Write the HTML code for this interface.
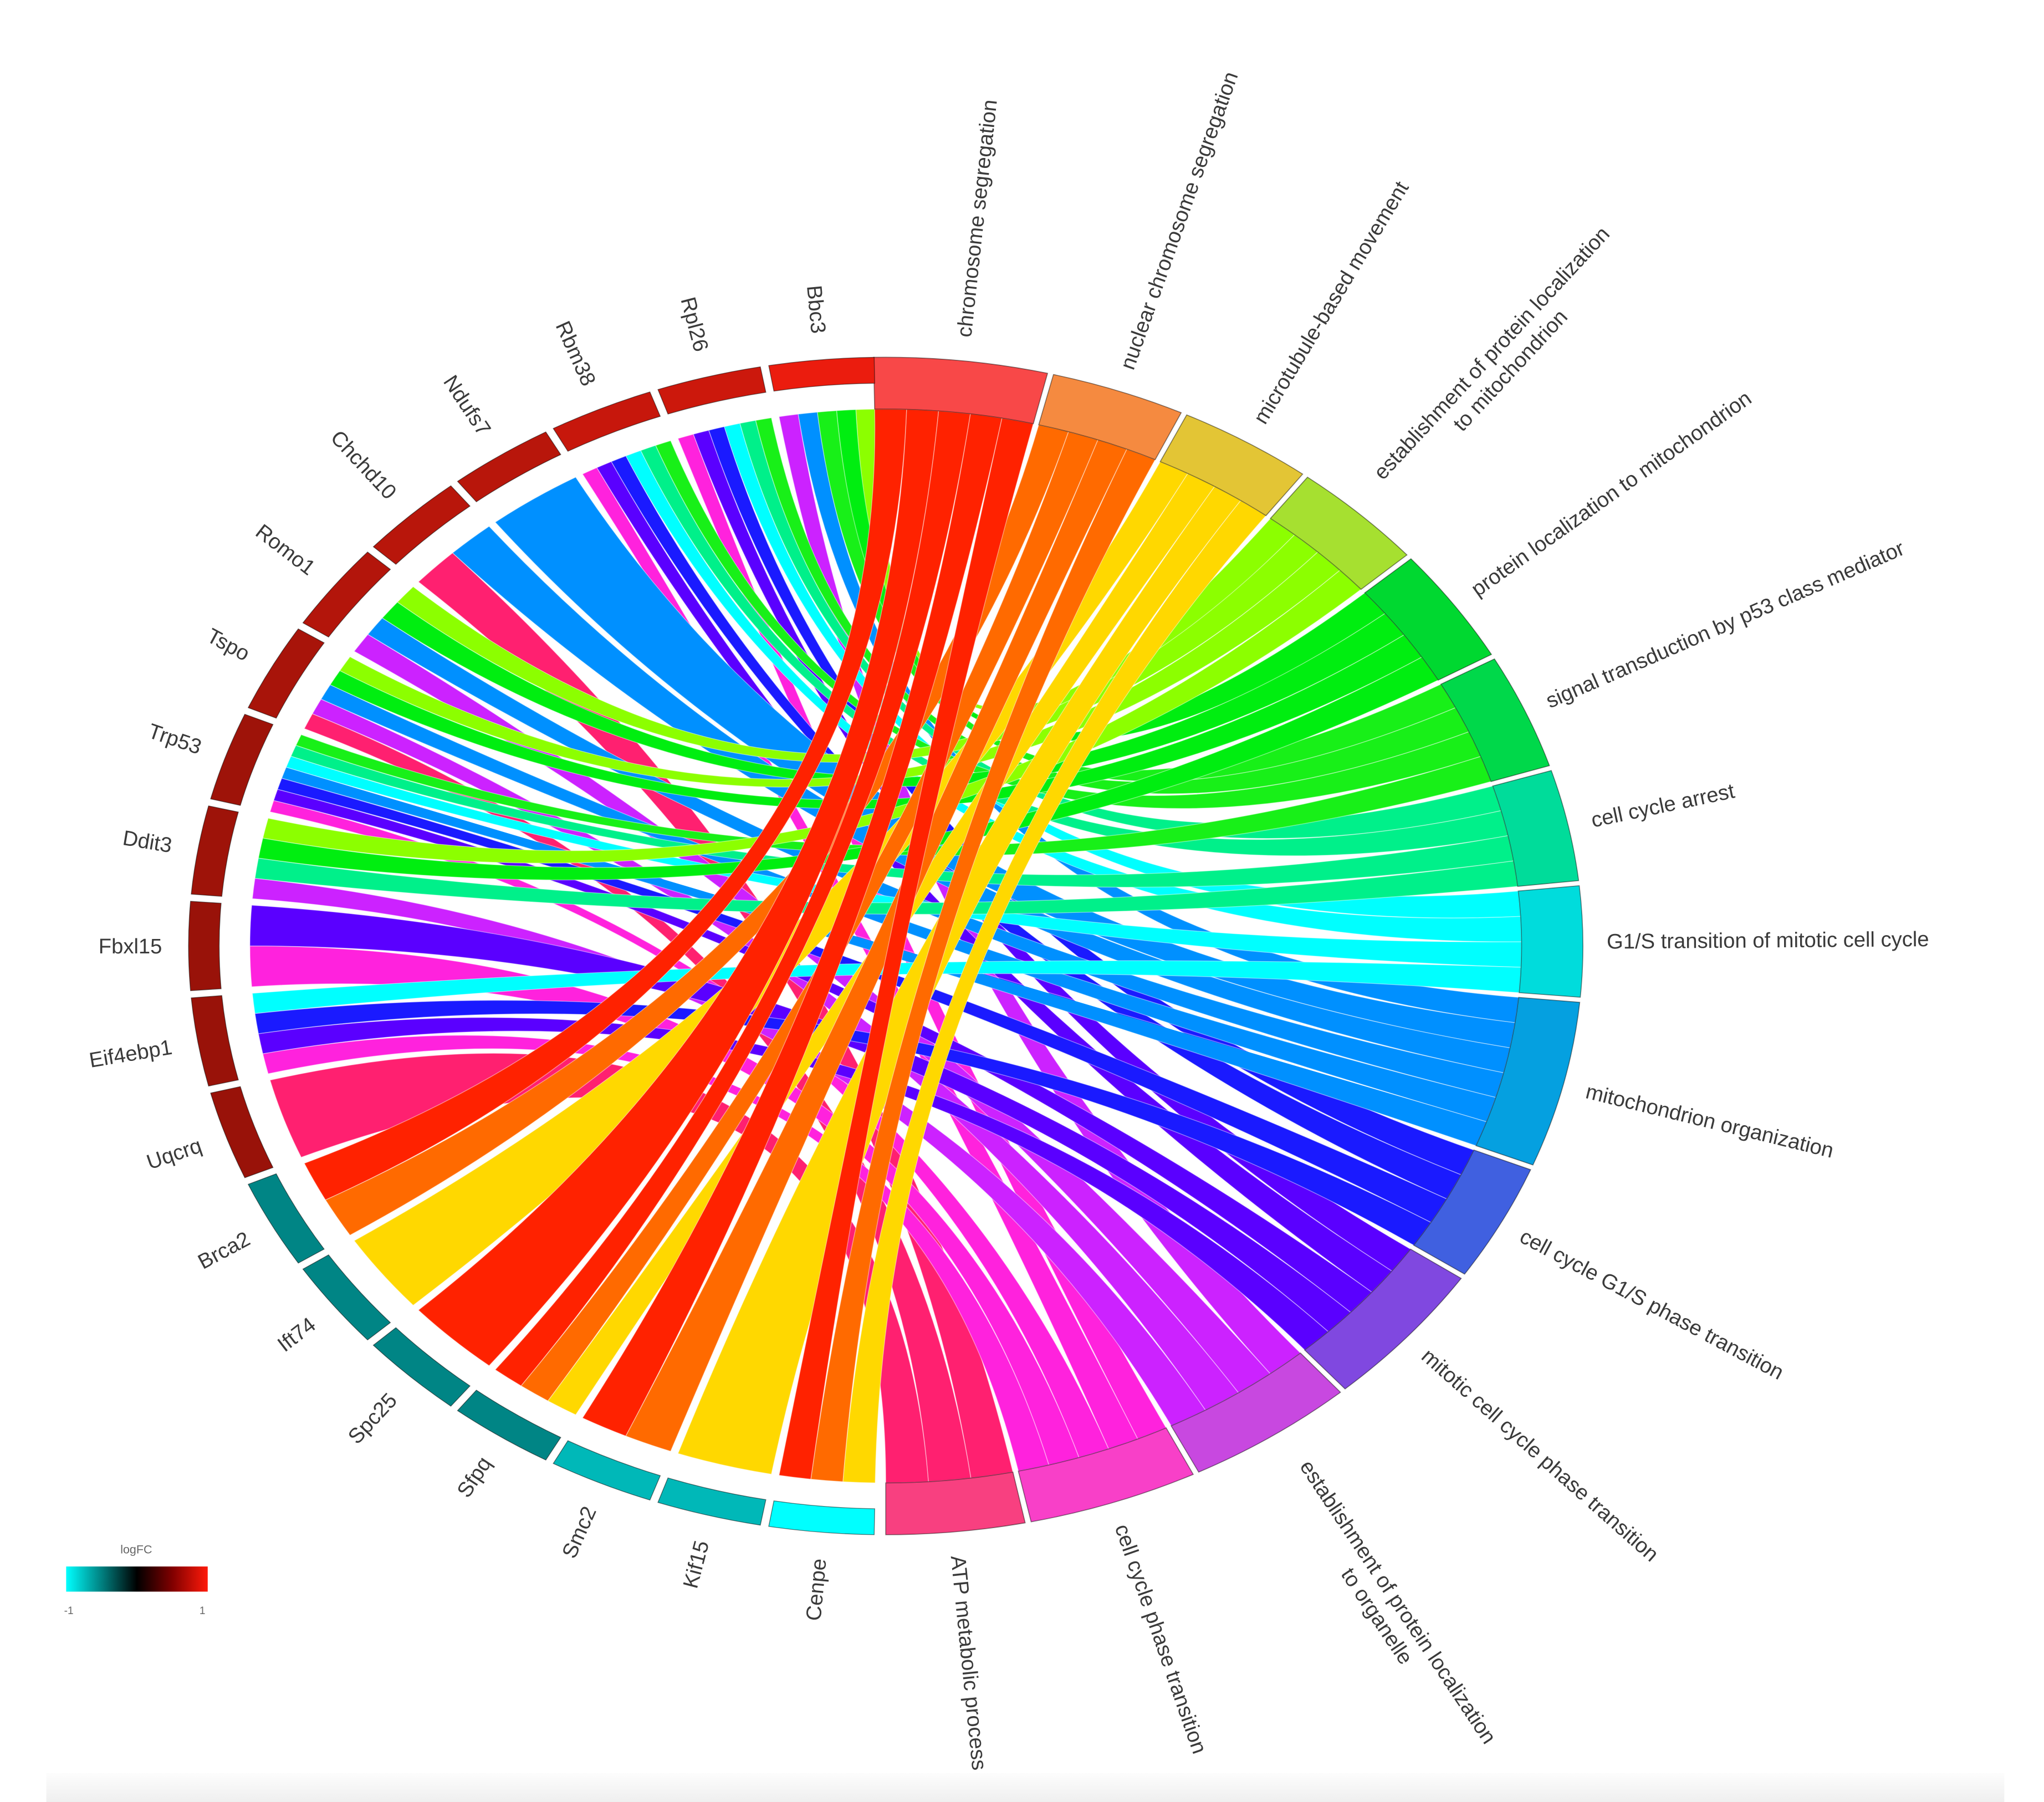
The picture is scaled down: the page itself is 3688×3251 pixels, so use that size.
<!DOCTYPE html>
<html>
<head>
<meta charset="utf-8">
<style>
  html, body { margin: 0; padding: 0; background: #ffffff; }
  #chart { display: block; }
  text { font-family: "Liberation Sans", "DejaVu Sans", sans-serif; }
</style>
</head>
<body>
<svg id="chart" width="3688" height="3251" viewBox="0 0 1545 1362" preserveAspectRatio="none" xmlns="http://www.w3.org/2000/svg">
  <defs>
    <linearGradient id="fcGrad" x1="0" y1="0" x2="1" y2="0">
      <stop offset="0" stop-color="#00ffff"/>
      <stop offset="0.25" stop-color="#008080"/>
      <stop offset="0.5" stop-color="#000000"/>
      <stop offset="0.75" stop-color="#800000"/>
      <stop offset="1" stop-color="#ff1a0a"/>
    </linearGradient>
    <linearGradient id="floorGrad" x1="0" y1="0" x2="0" y2="1">
      <stop offset="0" stop-color="#fdfdfd"/>
      <stop offset="1" stop-color="#efefef"/>
    </linearGradient>
  </defs>
  <rect x="0" y="0" width="1545" height="1362" fill="#ffffff"/>
  <rect x="35" y="1340" width="1480" height="22" fill="url(#floorGrad)"/>
  <g id="chords"></g>
  <g id="rings"></g>
  <g id="labels"></g>
  <g>
    <text x="103" y="1174" font-size="9" fill="#666" text-anchor="middle">logFC</text>
    <rect x="50" y="1184" width="107" height="19" fill="url(#fcGrad)"/>
    <text x="52" y="1220" font-size="8" fill="#666" text-anchor="middle">-1</text>
    <text x="153" y="1220" font-size="8" fill="#666" text-anchor="middle">1</text>
  </g>
</svg>
<script>
// ---- data ----
const genes = ["Bbc3","Rpl26","Rbm38","Ndufs7","Chchd10","Romo1","Tspo","Trp53","Ddit3","Fbxl15","Eif4ebp1","Uqcrq","Brca2","Ift74","Spc25","Sfpq","Smc2","Kif15","Cenpe"];
const logFC = [0.92,0.8,0.78,0.72,0.72,0.7,0.66,0.62,0.62,0.6,0.6,0.6,-0.52,-0.52,-0.52,-0.52,-0.72,-0.72,-1.0];
const terms = ["chromosome segregation","nuclear chromosome segregation","microtubule-based movement","establishment of protein localization|to mitochondrion","protein localization to mitochondrion","signal transduction by p53 class mediator","cell cycle arrest","G1/S transition of mitotic cell cycle","mitochondrion organization","cell cycle G1/S phase transition","mitotic cell cycle phase transition","establishment of protein localization|to organelle","cell cycle phase transition","ATP metabolic process"];
const termWeight = [15,11.6,11.6,11.6,11.9,11.8,11.4,11.3,17,12,15,14.6,14.7,12];
const geneTerms = [
  [3,4,5,8,11],
  [5,6,7,9,10,12],
  [5,6,7,9,10,12],
  [8],
  [8,13],
  [3,4,8,11],
  [3,4,8,11,13],
  [5,6,7,8,9,10,12],
  [3,4,6,11],
  [10,12],
  [7,9,10,12],
  [13],
  [0,1],
  [2],
  [0],
  [0,1,2],
  [0,1],
  [2],
  [0,1,2]
];
// ---- styles ----
const chordColor = ["#ff2200","#ff6a00","#ffd800","#8cff00","#00ee10","#18f018","#00f08a","#00ffff","#0090ff","#1a1aff","#5a00ff","#cc22ff","#ff22dd","#ff2070"];
const bandColor  = ["#f84848","#f58a40","#e3c535","#a6e030","#00d830","#00d84a","#00dc9a","#00dcdc","#05a0e0","#4060e0","#8048e0","#c848e0","#f840c8","#f84080"];

const cx = 669.5, cy = 715, RX = 527, RY = 445;
const R_OUT = 1.0, R_GENE_IN = 0.956, R_CHORD = 0.912;
const NS = "http://www.w3.org/2000/svg";
const chordsG = document.getElementById("chords");
const ringsG = document.getElementById("rings");
const labelsG = document.getElementById("labels");

function pt(r, deg) {
  const a = deg * Math.PI / 180;
  return [cx + RX * r * Math.sin(a), cy - RY * r * Math.cos(a)];
}
function f(n) { return n.toFixed(2); }
function arcTo(r, a0, a1, sweep) {
  const p = pt(r, a1);
  const large = Math.abs(a1 - a0) > 180 ? 1 : 0;
  return "A" + f(RX * r) + " " + f(RY * r) + " 0 " + large + " " + sweep + " " + f(p[0]) + " " + f(p[1]);
}
function sector(a0, a1, rin, rout) {
  const p0 = pt(rout, a0), p1 = pt(rin, a1);
  return "M" + f(p0[0]) + " " + f(p0[1]) + arcTo(rout, a0, a1, 1) +
         "L" + f(p1[0]) + " " + f(p1[1]) + arcTo(rin, a1, a0, 0) + "Z";
}
function fcColor(v) {
  let r, g, b;
  if (v >= 0) { r = 255 * v; g = 30 * v; b = 15 * v; }
  else { const t = -v; r = 0; g = 255 * t; b = 255 * t; }
  return "rgb(" + Math.round(r) + "," + Math.round(g) + "," + Math.round(b) + ")";
}

// ---- term layout (angles clockwise from top) ----
const T_START = -1.0, T_END = 180.0, T_GAP = 0.5;
const wSum = termWeight.reduce((a, b) => a + b, 0);
const tScale = (T_END - T_START - T_GAP * (terms.length - 1)) / wSum;
const termAng = [];
let acc = T_START;
for (let i = 0; i < terms.length; i++) {
  const s = acc, e = acc + termWeight[i] * tScale;
  termAng.push([s, e]);
  acc = e + T_GAP;
}
// ---- gene layout ----
const G_START = 359.4, G_END = 180.6, G_GAP = 0.7;
const gStep = (G_START - G_END) / genes.length;
const geneAng = genes.map((g, i) => [G_START - (i + 1) * gStep + G_GAP / 2, G_START - i * gStep - G_GAP / 2]);

// ---- link slots ----
const links = [];
geneTerms.forEach((lst, gi) => {
  const [lo, hi] = geneAng[gi];
  const w = (hi - lo) / lst.length;
  lst.forEach((ti, k) => {
    links.push({ gi: gi, ti: ti, s0: hi - (k + 1) * w, s1: hi - k * w });
  });
});
terms.forEach((t, ti) => {
  const tl = links.filter(l => l.ti === ti).sort((a, b) => a.gi - b.gi);
  const [s, e] = termAng[ti];
  const w = (e - s) / Math.max(tl.length, 1);
  tl.forEach((l, k) => { l.t0 = s + k * w; l.t1 = s + (k + 1) * w; });
});

// ---- chords ----
links.forEach(l => {
  const a = pt(R_CHORD, l.s0), b = pt(R_CHORD, l.t0);
  const d = "M" + f(a[0]) + " " + f(a[1]) + arcTo(R_CHORD, l.s0, l.s1, 1) +
            "Q" + cx + " " + cy + " " + f(b[0]) + " " + f(b[1]) + arcTo(R_CHORD, l.t0, l.t1, 1) +
            "Q" + cx + " " + cy + " " + f(a[0]) + " " + f(a[1]) + "Z";
  const p = document.createElementNS(NS, "path");
  p.setAttribute("d", d);
  p.setAttribute("fill", chordColor[l.ti]);
  p.setAttribute("stroke", "rgba(255,255,255,0.45)");
  p.setAttribute("stroke-width", "0.6");
  
  
  chordsG.appendChild(p);
});

// ---- term bands ----
terms.forEach((t, ti) => {
  const [s, e] = termAng[ti];
  const p = document.createElementNS(NS, "path");
  p.setAttribute("d", sector(s, e, R_CHORD, R_OUT));
  p.setAttribute("fill", bandColor[ti]);
  p.setAttribute("stroke", "rgba(0,0,0,0.45)");
  p.setAttribute("stroke-width", "0.7");
  
  
  ringsG.appendChild(p);
});
// ---- gene ring ----
genes.forEach((g, gi) => {
  const [s, e] = geneAng[gi];
  const p = document.createElementNS(NS, "path");
  p.setAttribute("d", sector(s, e, R_GENE_IN, R_OUT));
  p.setAttribute("fill", fcColor(logFC[gi]));
  p.setAttribute("stroke", "rgba(0,0,0,0.5)");
  p.setAttribute("stroke-width", "0.6");
  
  
  ringsG.appendChild(p);
});

// ---- labels ----
const FS = 16;
function labelPos(deg, off) {
  const a = deg * Math.PI / 180;
  return [cx + (RX + off) * Math.sin(a), cy - (RY + off) * Math.cos(a)];
}
terms.forEach((t, ti) => {
  const [s, e] = termAng[ti];
  const m = (s + e) / 2;
  const [x, y] = labelPos(m, 18);
  const txt = document.createElementNS(NS, "text");
  txt.setAttribute("transform", "translate(" + f(x) + "," + f(y) + ") rotate(" + f(m - 90) + ")");
  txt.setAttribute("font-size", FS);
  txt.setAttribute("fill", "#3a3a3a");
  
  
  const lines = t.split("|");
  if (lines.length === 1) {
    txt.setAttribute("text-anchor", "start");
    txt.setAttribute("dy", "0.35em");
    txt.textContent = lines[0];
  } else {
    const L1 = lines[0].length * FS * 0.47;
    txt.setAttribute("text-anchor", "middle");
    lines.forEach((ln, k) => {
      const ts = document.createElementNS(NS, "tspan");
      ts.setAttribute("x", f(L1 / 2));
      ts.setAttribute("dy", k === 0 ? "-0.25em" : "1.2em");
      ts.textContent = ln;
      txt.appendChild(ts);
    });
  }
  labelsG.appendChild(txt);
});
genes.forEach((g, gi) => {
  const [s, e] = geneAng[gi];
  const m = (s + e) / 2;
  const [x, y] = labelPos(m, 20);
  const txt = document.createElementNS(NS, "text");
  txt.setAttribute("transform", "translate(" + f(x) + "," + f(y) + ") rotate(" + f(m - 270) + ")");
  txt.setAttribute("font-size", FS);
  txt.setAttribute("fill", "#3a3a3a");
  txt.setAttribute("text-anchor", "end");
  txt.setAttribute("dy", "0.35em");
  
  
  txt.textContent = g;
  labelsG.appendChild(txt);
});
</script>
</body>
</html>
